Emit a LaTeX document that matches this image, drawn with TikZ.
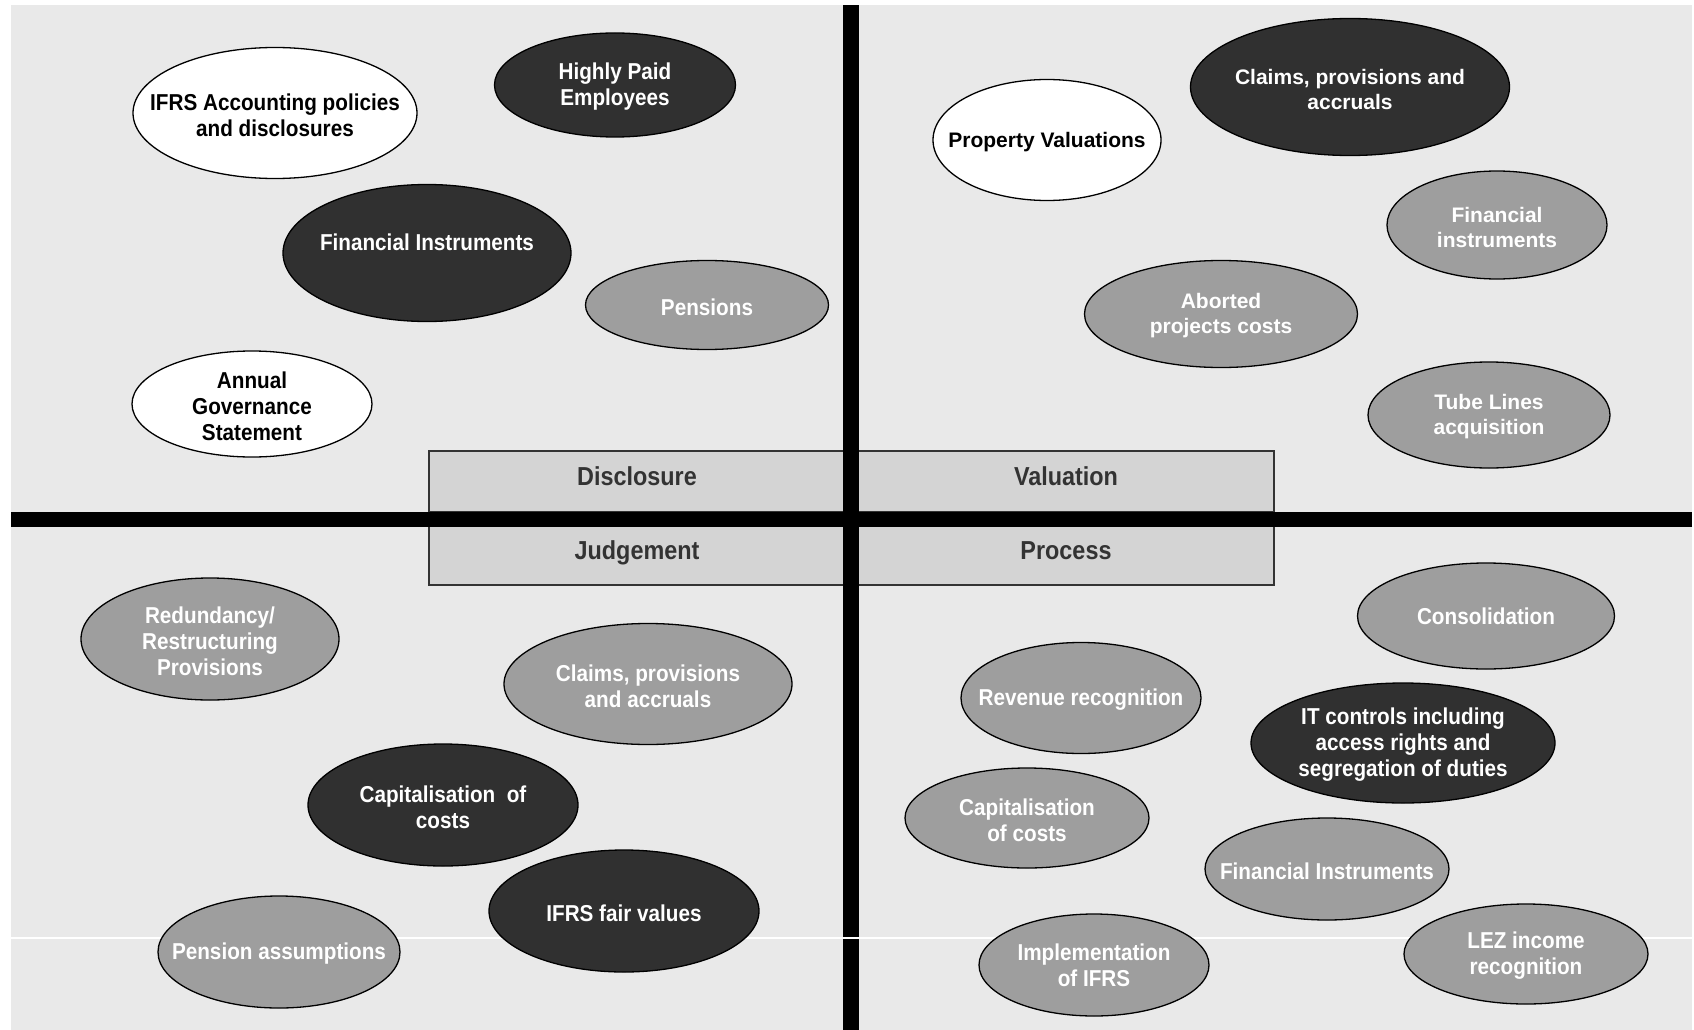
\documentclass[tikz,border=0pt]{standalone}
\usepackage{fontspec}
\usetikzlibrary{shapes.geometric}
\newfontfamily\condfont[FakeStretch=0.9]{Liberation Sans}
\newfontfamily\widefont{Liberation Sans}
\definecolor{bgfill}{HTML}{E9E9E9}
\definecolor{darkfill}{HTML}{303030}
\definecolor{midfill}{HTML}{9E9E9E}
\definecolor{boxfill}{HTML}{D4D4D4}
\definecolor{boxtext}{HTML}{333333}
\tikzset{
  blob/.style={ellipse, draw=black, line width=1.3pt, inner sep=0pt},
  dark/.style={blob, fill=darkfill},
  mid/.style={blob, fill=midfill},
  light/.style={blob, fill=white},
  size/.style 2 args={minimum width=#1pt, minimum height=#2pt},
  ctext/.style={align=center, inner sep=0pt, text=white, yshift=-2pt,
    font=\condfont\bfseries\fontsize{23}{26}\selectfont},
  wtext/.style={align=center, inner sep=0pt, text=white, yshift=-2pt,
    font=\widefont\bfseries\fontsize{21}{25}\selectfont},
  quadbox/.style={draw=boxtext, line width=1.2pt, fill=boxfill},
  boxlabel/.style={inner sep=0pt, text=boxtext,
    font=\condfont\bfseries\fontsize{26}{30}\selectfont},
}
\begin{document}
\begin{tikzpicture}[x=1pt, y=-1pt]
\useasboundingbox (0,0) rectangle (1694,1030);
% background panel
\fill[bgfill] (11,5) rectangle (1692,1030);

% category boxes round the centre
\draw[quadbox] (429,451) rectangle (845,512);
\draw[quadbox] (857,451) rectangle (1274,512);
\draw[quadbox] (429,526) rectangle (845,585);
\draw[quadbox] (857,526) rectangle (1274,585);
\node[boxlabel] (disc) at (637,476) {Disclosure};
\node[boxlabel] (valu) at (1066,476) {Valuation};
\node[boxlabel] (judg) at (637,553) {Judgement};
\node[boxlabel] (proc) at (1066,551) {Process};

% the two axes
\fill[black] (843,5) rectangle (859,1030);
\fill[black] (11,512) rectangle (1692,527);
% thin rule near the bottom
\fill[white] (11,937) rectangle (1692,938.5);

% Disclosure quadrant
\node[light, size={284}{131}] (ifrs) at (275,113) {};
\node[ctext, text=black] at (ifrs) {IFRS Accounting policies\\and disclosures};
\node[dark, size={241}{104}] (hpe) at (615,85) {};
\node[ctext] at (hpe) {Highly Paid\\Employees};
\node[dark, size={288}{137}] (fin1) at (427,253) {};
\node[ctext] at ([yshift=13pt]fin1.center) {Financial Instruments};
\node[mid, size={243}{89}] (pens) at (707,305) {};
\node[ctext] at (pens) {Pensions};
\node[light, size={240}{106}] (ags) at (252,404) {};
\node[ctext, text=black] at (ags) {Annual\\Governance\\Statement};

% Valuation quadrant
\node[light, size={228}{121}] (prop) at (1047,140) {};
\node[wtext, text=black] at (prop) {Property Valuations};
\node[dark, size={319}{137}] (claims1) at (1350,87) {};
\node[wtext] at (claims1) {Claims, provisions and\\accruals};
\node[mid, size={220}{108}] (fin2) at (1497,225) {};
\node[wtext] at (fin2) {Financial\\instruments};
\node[mid, size={273}{107}] (abort) at (1221,314) {};
\node[wtext] at (abort) {Aborted\\projects costs};
\node[mid, size={242}{106}] (tube) at (1489,415) {};
\node[wtext] at (tube) {Tube Lines\\acquisition};

% Judgement quadrant
\node[mid, size={258}{122}] (redund) at (210,639) {};
\node[ctext] at (redund) {Redundancy/\\Restructuring\\Provisions};
\node[mid, size={288}{121}] (claims2) at (648,684) {};
\node[ctext] at (claims2) {Claims, provisions\\and accruals};
\node[dark, size={270}{122}] (capit1) at (443,805) {};
\node[ctext] at (capit1) {Capitalisation\ \ of\\costs};
\node[dark, size={270}{122}] (fair) at (624,911) {};
\node[ctext] at (fair) {IFRS fair values};
\node[mid, size={242}{112}] (pensa) at (279,952) {};
\node[ctext] at (pensa) {Pension assumptions};

% Process quadrant
\node[mid, size={257}{106}] (consol) at (1486,616) {};
\node[ctext] at ([yshift=2pt]consol.center) {Consolidation};
\node[mid, size={240}{111}] (rev) at (1081,698) {};
\node[ctext] at (rev) {Revenue recognition};
\node[dark, size={304}{120}] (itc) at (1403,743) {};
\node[ctext] at (itc) {IT controls including\\access rights and\\segregation of duties};
\node[mid, size={244}{100}] (capit2) at (1027,818) {};
\node[ctext] at (capit2) {Capitalisation\\of costs};
\node[mid, size={244}{102}] (fin3) at (1327,869) {};
\node[ctext] at (fin3) {Financial Instruments};
\node[mid, size={230}{102}] (impl) at (1094,965) {};
\node[ctext] at ([yshift=2pt]impl.center) {Implementation\\of IFRS};
\node[mid, size={244}{100}] (lez) at (1526,954) {};
\node[ctext] at (lez) {LEZ income\\recognition};
\end{tikzpicture}
\end{document}
